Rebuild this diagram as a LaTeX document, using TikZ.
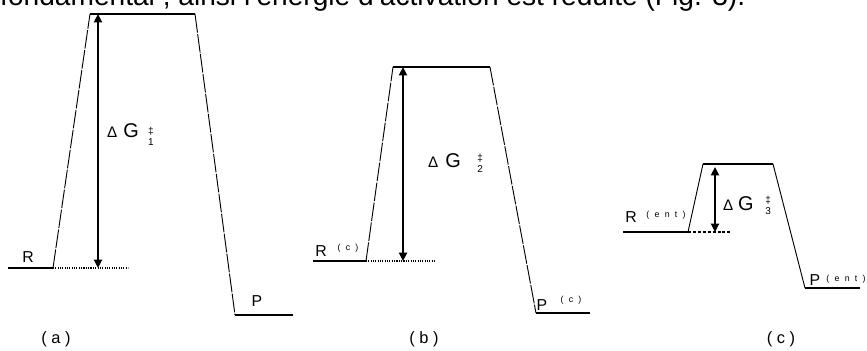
\documentclass[tikz,border=0pt]{standalone}
\usepackage{fontspec}
\setmainfont{Liberation Sans}
\usetikzlibrary{arrows.meta}
\newcommand{\actlab}[4]{{\fontsize{13}{13}\selectfont Δ}\hspace{#2}{\fontsize{17}{17}\selectfont G}\hspace{#3}\raisebox{#4}{\fontsize{8.5}{9.5}\selectfont\shortstack{‡\\#1}}}
\newcommand{\ls}{\hspace{4.5pt}}
\tikzset{level/.style={line width=1.3pt},slope/.style={line width=0.8pt,dash pattern=on 16pt off 1.2pt},slopec/.style={line width=0.8pt},dotref/.style={line width=1.3pt,dash pattern=on 0.9pt off 1.1pt},dashref/.style={line width=0.9pt,dash pattern=on 2.6pt off 1.6pt},barrier/.style={{Triangle[length=2.5mm,width=2.4mm]}-{Triangle[length=2.5mm,width=2.4mm]},line width=1.7pt},lab/.style={inner sep=0pt,font=\fontsize{13.5}{13.5}\selectfont},suplab/.style={inner sep=0pt,font=\fontsize{7.5}{7.5}\selectfont},panelcap/.style={inner sep=0pt,font=\fontsize{14}{14}\selectfont},toptext/.style={inner sep=0pt,font=\fontsize{24}{24}\selectfont},dglab/.style={inner sep=0pt,anchor=base west}}
\begin{document}
\begin{tikzpicture}[x=0.03cm,y=-0.03cm]
\useasboundingbox (0,0) rectangle (867,350);
\begin{scope}
\clip (0,0) rectangle (867,350);
\node[toptext,anchor=base west] (hdr) at (0,5) {fondamental , ainsi l'énergie d'activation est réduite (Fig. 3).};
\end{scope}
\coordinate (ra0) at (8,268);\coordinate (ra1) at (53,268);\coordinate (ta0) at (90,14);\coordinate (ta1) at (195,14);
\coordinate (pa0) at (235,315);\coordinate (pa1) at (293,315);\coordinate (da) at (128,268);
\coordinate (ga0) at (98,14);\coordinate (ga1) at (98,268);
\draw[level] (ra0)--(ra1);\draw[slope] (ra1)--(ta0);\draw[level] (ta0)--(ta1);\draw[slope] (ta1)--(pa0);\draw[level] (pa0)--(pa1);
\draw[dotref] (ra1)--(da);\draw[barrier] (ga0)--(ga1);
\node[lab] (ra) at (28,257) {R};
\node[lab] (pa) at (257,301) {P};
\node[dglab] (dga) at (107,137) {\actlab{1}{5pt}{8pt}{-7.6pt}};
\node[panelcap] (capa) at (56,339) {( a )};
\coordinate (rb0) at (313,261);\coordinate (rb1) at (366,261);\coordinate (tb0) at (393,67);\coordinate (tb1) at (490,67);
\coordinate (pb0) at (536,313);\coordinate (pb1) at (590,313);\coordinate (db) at (435,261);
\coordinate (gb0) at (403,67);\coordinate (gb1) at (403,261);
\draw[level] (rb0)--(rb1);\draw[slope] (rb1)--(tb0);\draw[level] (tb0)--(tb1);\draw[slope] (tb1)--(pb0);\draw[level] (pb0)--(pb1);
\draw[dotref] (rb1)--(db);\draw[barrier] (gb0)--(gb1);
\node[lab] (rb) at (321,251) {R};\node[suplab] (rbs) at (348,248) {(\ls c\ls)};
\node[lab] (pb) at (542,305) {P};\node[suplab] (pbs) at (571,300) {(\ls c\ls)};
\node[dglab] (dgb) at (428,167) {\actlab{2}{6pt}{14pt}{-5pt}};
\node[panelcap] (capb) at (424,339) {( b )};
\coordinate (rc0) at (623,232);\coordinate (rc1) at (688,232);\coordinate (tc0) at (703,164);\coordinate (tc1) at (773,164);
\coordinate (pc0) at (805,288);\coordinate (pc1) at (860,288);\coordinate (dc) at (732,232);
\coordinate (gc0) at (715,167);\coordinate (gc1) at (715,232);
\draw[level] (rc0)--(rc1);\draw[slopec] (rc1)--(tc0);\draw[level] (tc0)--(tc1);\draw[slopec] (tc1)--(pc0);\draw[level] (pc0)--(pc1);
\draw[dashref] (rc1)--(dc);\draw[barrier] (gc0)--(gc1);
\node[lab] (rc) at (631,217) {R};\node[suplab] (rcs) at (666,215) {(\ls e\ls n\ls t\ls)};
\node[lab] (pc) at (815,280) {P};\node[suplab] (pcs) at (846,279) {(\ls e\ls n\ls t\ls)};
\node[dglab] (dgc) at (723,210) {\actlab{3}{4pt}{10pt}{-4pt}};
\node[panelcap] (capc) at (781,339) {( c )};
\end{tikzpicture}
\end{document}
